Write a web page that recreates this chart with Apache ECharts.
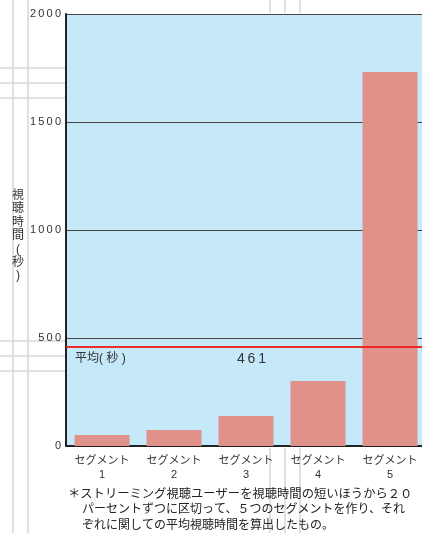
<!DOCTYPE html>
<html>
<head>
<meta charset="utf-8">
<script src="https://cdn.jsdelivr.net/npm/echarts@6/dist/echarts.min.js"></script>
<style>
  html, body { margin: 0; padding: 0; background: #fff; overflow: hidden; }
  #chart { width: 426px; height: 533px; }
</style>
</head>
<body>
<div id="chart"></div>
<script>
// データ
var categories = ['セグメント\n1', 'セグメント\n2', 'セグメント\n3', 'セグメント\n4', 'セグメント\n5'];
var watchTime = [51, 74, 139, 301, 1731];
var average = 461;
var yTicks = [0, 500, 1000, 1500, 2000];
var axisName = '視\n聴\n時\n間\n(\n秒\n)';
var noteLines = [
    '＊ストリーミング視聴ユーザーを視聴時間の短いほうから２０',
    'パーセントずつに区切って、５つのセグメントを作り、それ',
    'ぞれに関しての平均視聴時間を算出したもの。'
];

var FONT = "'Liberation Sans', 'Noto Sans CJK JP', sans-serif";
var GRAY = '#d9d9d9';

// 桁の間を少し空ける
function spaced(s) {
    return String(s).split('').join('\u2009');
}

// 描画領域は窓より少し広い（右端がはみ出している）
var myChart = echarts.init(document.getElementById('chart'));

// 背景の薄い罫線
var bgLines = [
    [13, 0, 13, 533], [28, 0, 28, 533],
    [0, 68, 65, 68], [0, 83, 65, 83], [0, 98, 65, 98],
    [0, 341, 65, 341], [0, 356, 65, 356], [0, 371, 65, 371],
    [270, 0, 270, 13], [285, 0, 285, 13], [300, 0, 300, 13],
    [270, 448, 270, 533], [285, 448, 285, 533], [300, 448, 300, 533]
];

var graphics = bgLines.map(function (l) {
    return {
        type: 'line', z: -10, silent: true,
        shape: { x1: l[0], y1: l[1], x2: l[2], y2: l[3] },
        style: { stroke: GRAY, lineWidth: 1.6 }
    };
});

graphics.push({
    type: 'text', silent: true, x: 18, y: 189,
    style: { text: axisName, fill: '#333', font: '12px ' + FONT, lineHeight: 13.4, textAlign: 'center' }
});

noteLines.forEach(function (t, i) {
    graphics.push({
        type: 'text', silent: true,
        x: i == 0 ? 68 : 82, y: 488 + i * 16,
        style: { text: t, fill: '#222', font: (i == 0 ? '12.3px ' : '12px ') + FONT }
    });
});

var option = {
    animation: false,
    textStyle: { fontFamily: FONT },
    grid: {
        left: 66, top: 14, width: 360, height: 432,
        show: true, backgroundColor: '#c6e9f9', borderWidth: 0
    },
    xAxis: {
        type: 'category',
        data: categories,
        axisLine: { lineStyle: { color: '#222', width: 2 } },
        axisTick: { show: false },
        axisLabel: { interval: 0, color: '#333', fontSize: 11, lineHeight: 14, margin: 8 }
    },
    yAxis: {
        type: 'value',
        min: yTicks[0],
        max: yTicks[yTicks.length - 1],
        interval: 500,
        axisLine: { show: true, lineStyle: { color: '#222', width: 2 } },
        axisTick: { show: false },
        axisLabel: { color: '#333', fontSize: 11, margin: 5, formatter: spaced },
        splitLine: { lineStyle: { color: '#444', width: 1 } }
    },
    graphic: graphics,
    series: [{
        type: 'bar',
        data: watchTime,
        barWidth: 55,
        itemStyle: { color: '#e0918a' },
        markLine: {
            silent: true,
            symbol: 'none',
            lineStyle: { color: '#f02020', width: 1.5, type: 'solid' },
            data: [
                { yAxis: average, label: { formatter: '平均( 秒 )', position: 'insideStartBottom', distance: [9, 6], color: '#333', fontSize: 12 } },
                { yAxis: average, label: { formatter: spaced(average), position: 'insideMiddleBottom', distance: 6, padding: [0, 0, 0, 11], color: '#333', fontSize: 14 } }
            ]
        }
    }]
};

myChart.setOption(option);
</script>
</body>
</html>
